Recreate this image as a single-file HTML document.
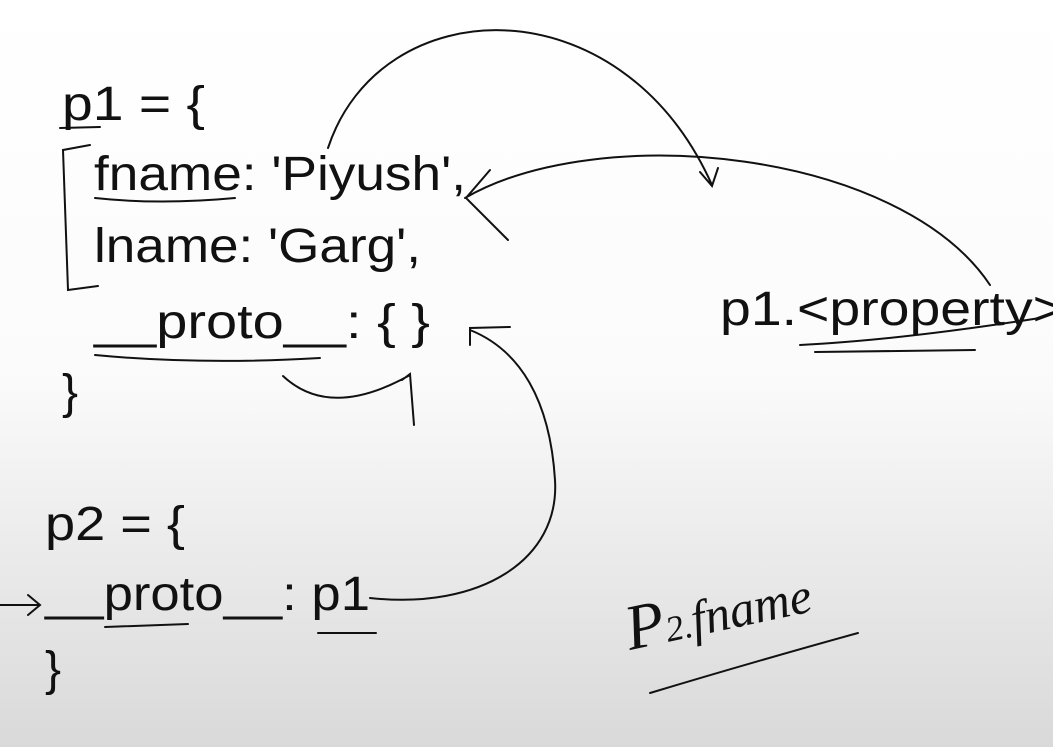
<!DOCTYPE html>
<html><head><meta charset="utf-8"><style>
html,body{margin:0;padding:0;width:1053px;height:747px;overflow:hidden}
svg{display:block}
text{font-family:"Liberation Sans",sans-serif;fill:#111}
</style></head><body>
<svg width="1053" height="747" viewBox="0 0 1053 747" xmlns="http://www.w3.org/2000/svg">
<defs><linearGradient id="g" x1="0" y1="0" x2="0" y2="1">
<stop offset="0" stop-color="#ffffff"/><stop offset="0.5" stop-color="#fbfbfb"/><stop offset="1" stop-color="#d9d9d9"/></linearGradient></defs>
<rect width="1053" height="747" fill="url(#g)"/>
<g font-size="48" lengthAdjust="spacingAndGlyphs">
<text x="62" y="120" textLength="143" lengthAdjust="spacingAndGlyphs">p1 = {</text>
<text x="94" y="190" textLength="372" lengthAdjust="spacingAndGlyphs">fname: 'Piyush',</text>
<text x="94" y="262" textLength="327" lengthAdjust="spacingAndGlyphs">lname: 'Garg',</text>
<text x="94" y="338" textLength="336" lengthAdjust="spacingAndGlyphs">__proto__: {  }</text>
<text x="62" y="408">}</text>
<text x="45" y="540" textLength="140" lengthAdjust="spacingAndGlyphs">p2 = {</text>
<text x="45" y="610" textLength="325" lengthAdjust="spacingAndGlyphs">__proto__: p1</text>
<text x="45" y="685">}</text>
<text x="720" y="325" textLength="345" lengthAdjust="spacingAndGlyphs">p1.&lt;property&gt;</text>
</g>
<g fill="none" stroke="#111" stroke-width="2" stroke-linecap="round">
<path d="M60 128 L100 127"/>
<path d="M90 145 L63 150 L68 290 L98 286"/>
<path d="M95 198 Q160 205 235 198"/>
<path d="M95 355 Q200 365 320 358"/>
<path d="M283 376 Q330 420 410 375 M402 380 L410 374 L414 425"/>
<path d="M328 148 C380 -10 620 -20 712 185 M700 172 L712 186 L718 168"/>
<path d="M465 198 C600 120 900 150 990 285 M490 170 L466 198 L508 240"/>
<path d="M370 598 C480 610 560 560 555 480 C550 400 520 350 470 330 M470 345 L470 328 L510 327"/>
<path d="M0 605 L38 605 M28 595 L40 605 L28 615"/>
<path d="M105 627 L188 624"/>
<path d="M318 633 L376 633"/>
<path d="M800 345 Q900 340 1040 318"/>
<path d="M815 352 L975 350"/>
<path d="M650 693 Q760 660 858 633"/>
</g>
<text x="630" y="650" font-size="64" font-style="italic" transform="rotate(-12 630 650)" style="font-family:'Liberation Serif',serif">P<tspan font-size="36">2.</tspan><tspan font-size="50">fname</tspan></text>
</svg>
</body></html>
